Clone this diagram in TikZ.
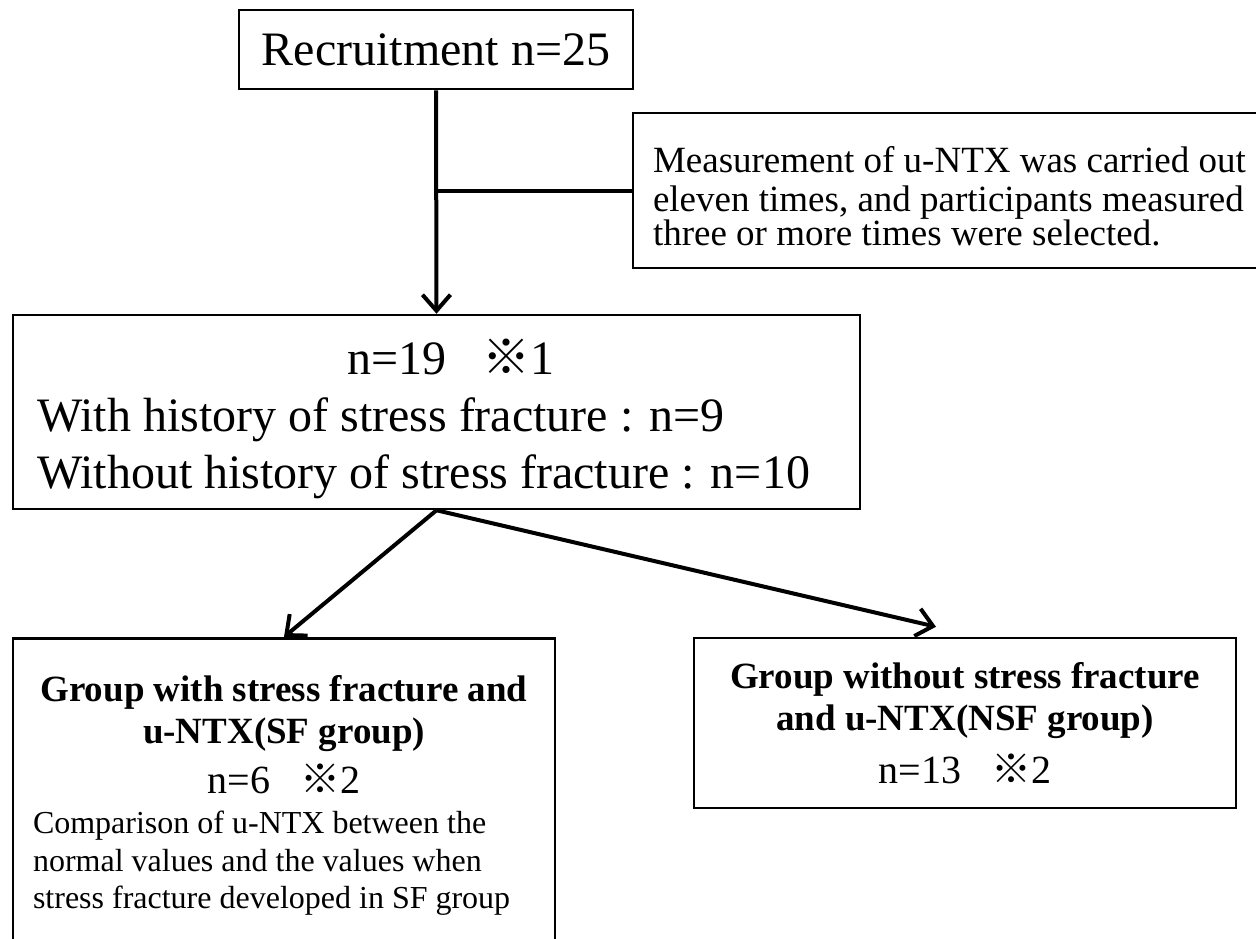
\documentclass[tikz,border=0pt]{standalone}
\usepackage{fontspec}
\setmainfont{Liberation Serif}
\newfontfamily\cjk{Noto Sans CJK JP}
\usetikzlibrary{arrows.meta}
\newcommand{\kome}{{\cjk ※}}
% font size in px, with normal word spaces
\newcommand{\fsz}[2]{\fontsize{#1}{#2}\selectfont\spaceskip=0pt\xspaceskip=0pt\relax}
\begin{document}
\begin{tikzpicture}[x=1pt,y=-1pt,
  box/.style={draw,line width=2.5pt,inner sep=0pt},
  flow/.style={line width=4pt},
  arr/.style={flow,-{Straight Barb[length=16pt,width=28pt,line width=4pt]}}]
\useasboundingbox (0,0) rectangle (1256,938);
\clip (0,0) rectangle (1256,938);
\node[box,minimum width=394pt,minimum height=79pt,font=\fsz{48}{58}] (recruit) at (436,49.5) {Recruitment n=25};
\node[box,minimum width=657pt,minimum height=155pt,text width=617pt,inner xsep=20pt,align=left] (note) at (961.5,190.5)
  {\fsz{37}{38.5}\rule{0pt}{38pt}Measurement of u-NTX was carried out\\ eleven times, and participants measured\\ three or more times were selected.};
\node[box,minimum width=847pt,minimum height=194pt,text width=799pt,inner xsep=24pt] (sel) at (436.5,412)
  {{\centering\fsz{48}{57}\rule{0pt}{49pt}\hspace*{29pt}n=19\hspace{0.75em}\kome1\par}
   {\raggedright\fsz{48}{57}With history of stress fracture : n=9\\ Without history of stress fracture : n=10\par}};
\node[box,anchor=north,minimum width=542pt,text width=502pt,inner xsep=20pt,inner ysep=37pt] (sf) at (284,637)
  {{\centering\bfseries\fsz{37}{42}Group with stress fracture and\\ u-NTX(SF group)\par}
   {\centering\fsz{40}{50}n=6\hspace{0.75em}\kome2\par}
   \vspace{3pt}
   {\raggedright\fsz{32}{37.5}Comparison of u-NTX between the\\ normal values and the values when\\ stress fracture developed in SF group\par}};
\node[box,minimum width=542pt,minimum height=170pt,text width=502pt,inner xsep=20pt] (nsf) at (965,723)
  {{\centering\bfseries\fsz{37}{42}Group without stress fracture\\ and u-NTX(NSF group)\par}
   {\centering\fsz{40}{53}n=13\hspace{0.75em}\kome2\par}};
\draw[arr] (recruit.south) -- (sel.north);
\draw[flow] (recruit.south |- note.west) -- (note.west);
\draw[arr] (sel.south) -- (sf.north);
\draw[arr] (sel.south) -- ([xshift=-29pt,yshift=10pt]nsf.north);
\end{tikzpicture}
\end{document}
